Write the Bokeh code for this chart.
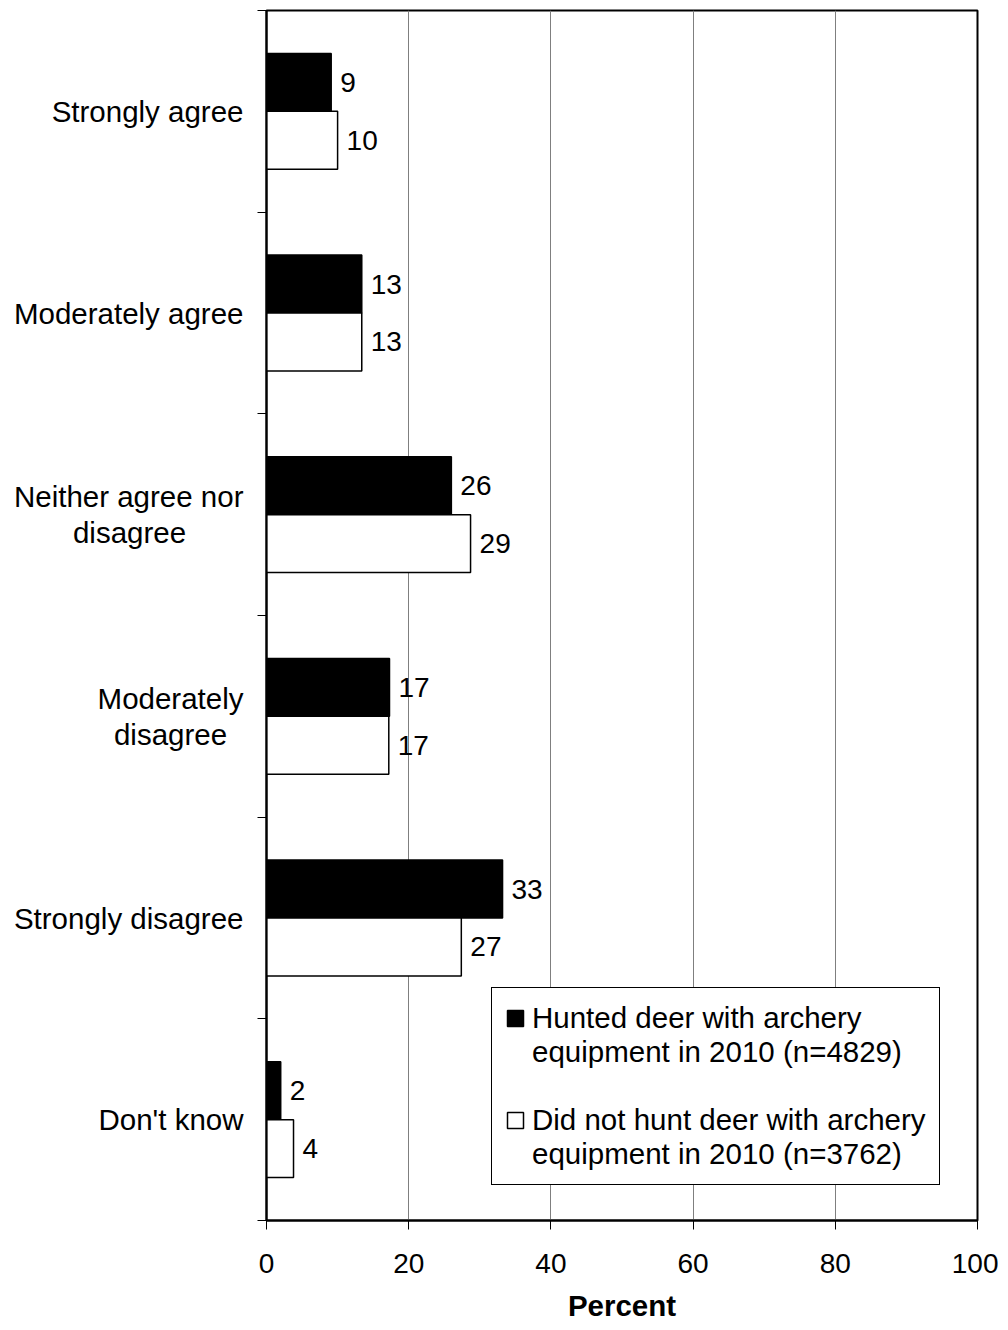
from bokeh.plotting import figure
from bokeh.models import (Range1d, FixedTicker, ColumnDataSource, Legend, LegendItem)
from bokeh.core.properties import value
from bokeh.embed import file_html
from bokeh.resources import INLINE

NB = "\u00a0"
categories = ["Strongly agree", "Moderately agree",
              "Neither agree nor\ndisagree" + NB * 7,
              "Moderately\ndisagree" + NB * 2,
              "Strongly disagree", "Don't know"]
hunted = [9.1, 13.4, 26.0, 17.3, 33.2, 2.0]
not_hunted = [10.0, 13.4, 28.7, 17.2, 27.4, 3.8]
legend_lines = [["Hunted deer with archery", "equipment in 2010 (n=4829)"],
                ["Did not hunt deer with archery", "equipment in 2010 (n=3762)"]]
x_ticks = [0, 20, 40, 60, 80, 100]

FONT = "Liberation Sans"
FS_NUM = "28px"
FS_TXT = "29.5px"
BAR_H = 0.287

centers = [i + 0.5 for i in range(len(categories))]
src_h = ColumnDataSource(dict(y=[c - BAR_H / 2 for c in centers], x=hunted,
                              lab=["%.0f" % v for v in hunted]))
src_n = ColumnDataSource(dict(y=[c + BAR_H / 2 for c in centers], x=not_hunted,
                              lab=["%.0f" % v for v in not_hunted]))

p = figure(width=998, height=1330, output_backend="svg", toolbar_location=None,
           x_range=Range1d(0, 100), y_range=Range1d(len(categories), 0),
           min_border_left=266, min_border_right=21, min_border_top=10,
           min_border_bottom=110)
p.outline_line_color = "black"
p.outline_line_width = 2
p.outline_line_alpha = 1

p.xgrid.ticker = FixedTicker(ticks=x_ticks)
p.xgrid.grid_line_color = "#7f7f7f"
p.xgrid.grid_line_width = 1
p.ygrid.grid_line_color = None

r1 = p.hbar(y="y", right="x", left=0, height=BAR_H, source=src_h,
            fill_color="black", line_color="black", line_width=1.5)
r2 = p.hbar(y="y", right="x", left=0, height=BAR_H, source=src_n,
            fill_color="white", line_color="black", line_width=1.5)
# invisible renderer used for the continuation lines of the legend
r_blank = p.hbar(y="y", right="x", left=0, height=BAR_H,
                 source=ColumnDataSource(dict(y=[], x=[])),
                 fill_alpha=0, line_alpha=0)

for s in (src_h, src_n):
    p.text(x="x", y="y", text="lab", source=s, x_offset=9,
           text_baseline="middle", text_align="left",
           text_font=value(FONT), text_font_size=FS_NUM, text_color="black")

xa = p.xaxis[0]
xa.ticker = FixedTicker(ticks=x_ticks)
xa.axis_line_color = "black"
xa.axis_line_width = 2
xa.major_tick_out = 9
xa.major_tick_in = 0
xa.major_tick_line_color = "black"
xa.major_tick_line_width = 1
xa.minor_tick_line_color = None
xa.major_label_text_font = FONT
xa.major_label_text_font_size = FS_NUM
xa.major_label_text_color = "black"
xa.major_label_standoff = 24
xa.axis_label = "Percent"
xa.axis_label_text_font = FONT
xa.axis_label_text_font_size = FS_TXT
xa.axis_label_text_font_style = "bold"
xa.axis_label_text_color = "black"
xa.axis_label_standoff = 13

ya = p.yaxis[0]
ya.ticker = FixedTicker(ticks=centers, minor_ticks=list(range(len(categories) + 1)))
ya.major_label_overrides = {c: lab for c, lab in zip(centers, categories)}
ya.axis_line_color = "black"
ya.axis_line_width = 2
ya.major_tick_out = 0
ya.major_tick_in = 0
ya.major_tick_line_color = None
ya.minor_tick_out = 9
ya.minor_tick_in = 0
ya.minor_tick_line_color = "black"
ya.minor_tick_line_width = 1
ya.major_label_text_font = FONT
ya.major_label_text_font_size = FS_TXT
ya.major_label_text_color = "black"
ya.major_label_text_line_height = 1.1
ya.major_label_standoff = 14

items = [LegendItem(label=legend_lines[0][0], renderers=[r1]),
         LegendItem(label=legend_lines[0][1], renderers=[r_blank]),
         LegendItem(label=NB, renderers=[r_blank]),
         LegendItem(label=legend_lines[1][0], renderers=[r2]),
         LegendItem(label=legend_lines[1][1], renderers=[r_blank])]
legend = Legend(items=items, location=(225, 35))
legend.label_text_font = FONT
legend.label_text_font_size = FS_TXT
legend.label_text_color = "black"
legend.border_line_color = "black"
legend.border_line_width = 1
legend.border_line_alpha = 1
legend.background_fill_alpha = 1
legend.glyph_width = 20
legend.glyph_height = 20
legend.label_standoff = 7
legend.padding = 13
legend.spacing = 0
legend.margin = 0
p.add_layout(legend, "center")

open("out.html", "w").write(file_html(p, INLINE))
